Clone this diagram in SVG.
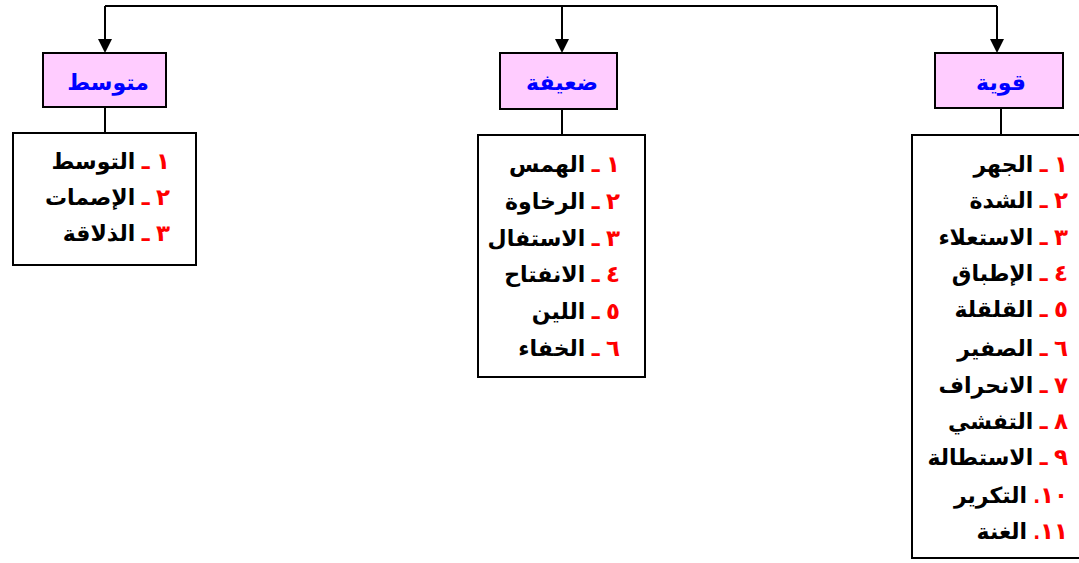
<svg xmlns="http://www.w3.org/2000/svg" width="1079" height="563" viewBox="0 0 1079 563">
<style>
.hdr{fill:#ffccff;stroke:#000;stroke-width:2}
.lst{fill:#fff;stroke:#000;stroke-width:2}
.ln{fill:none;stroke:#000;stroke-width:2}
.t{font-family:"Liberation Sans","DejaVu Sans",sans-serif;font-weight:bold;font-size:22px}
.title{fill:#0000ff;text-anchor:middle}
.item{fill:#000}
.n{fill:#ff0000;font-size:23px}
</style>
<rect width="1079" height="563" fill="#fff"/>
<g id="connectors">
<polyline class="ln" points="105,6 997,6"/>
<line class="ln" x1="105" y1="6" x2="105" y2="39"/>
<path d="M98,39 L112,39 L105,53 Z" fill="#000"/>
<line class="ln" x1="562" y1="6" x2="562" y2="39"/>
<path d="M555,39 L569,39 L562,53 Z" fill="#000"/>
<line class="ln" x1="997" y1="6" x2="997" y2="39"/>
<path d="M990,39 L1004,39 L997,53 Z" fill="#000"/>
<line class="ln" x1="105" y1="107" x2="105" y2="133"/>
<line class="ln" x1="562" y1="109" x2="562" y2="135"/>
<line class="ln" x1="1001" y1="108" x2="1001" y2="135"/>
</g>
<g id="node-mutawassit">
<rect class="hdr" x="43" y="53" width="123" height="54"/>
<text class="t title" x="108" y="90" direction="rtl">متوسط</text>
</g>
<g id="node-daeefa">
<rect class="hdr" x="500" y="53" width="117" height="56"/>
<text class="t title" x="562" y="90" direction="rtl">ضعيفة</text>
</g>
<g id="node-qawiya">
<rect class="hdr" x="935" y="53" width="128" height="55"/>
<text class="t title" x="1001" y="90" direction="rtl">قوية</text>
</g>
<g id="list-mutawassit">
<rect class="lst" x="13" y="133" width="183" height="132"/>
<g class="t item" direction="rtl" text-anchor="start">
<text x="170" y="169"><tspan class="n">١ ـ </tspan>التوسط</text>
<text x="170" y="205"><tspan class="n">٢ ـ </tspan>الإصمات</text>
<text x="170" y="241"><tspan class="n">٣ ـ </tspan>الذلاقة</text>
</g>
</g>
<g id="list-daeefa">
<rect class="lst" x="478" y="135" width="167" height="242"/>
<g class="t item" direction="rtl" text-anchor="start">
<text x="620" y="172"><tspan class="n">١ ـ </tspan>الهمس</text>
<text x="620" y="209"><tspan class="n">٢ ـ </tspan>الرخاوة</text>
<text x="620" y="246"><tspan class="n">٣ ـ </tspan>الاستفال</text>
<text x="620" y="282"><tspan class="n">٤ ـ </tspan>الانفتاح</text>
<text x="620" y="319"><tspan class="n">٥ ـ </tspan>اللين</text>
<text x="620" y="356"><tspan class="n">٦ ـ </tspan>الخفاء</text>
</g>
</g>
<g id="list-qawiya">
<rect class="lst" x="912" y="135" width="180" height="423"/>
<g class="t item" direction="rtl" text-anchor="start">
<text x="1068" y="172"><tspan class="n">١ ـ </tspan>الجهر</text>
<text x="1068" y="208"><tspan class="n">٢ ـ </tspan>الشدة</text>
<text x="1068" y="245"><tspan class="n">٣ ـ </tspan>الاستعلاء</text>
<text x="1068" y="281"><tspan class="n">٤ ـ </tspan>الإطباق</text>
<text x="1068" y="317"><tspan class="n">٥ ـ </tspan>القلقلة</text>
<text x="1068" y="356"><tspan class="n">٦ ـ </tspan>الصفير</text>
<text x="1068" y="393"><tspan class="n">٧ ـ </tspan>الانحراف</text>
<text x="1068" y="429"><tspan class="n">٨ ـ </tspan>التفشي</text>
<text x="1068" y="465"><tspan class="n">٩ ـ </tspan>الاستطالة</text>
<text x="1068" y="503"><tspan class="n">١٠. </tspan>التكرير</text>
<text x="1068" y="539"><tspan class="n">١١. </tspan>الغنة</text>
</g>
</g>
</svg>
